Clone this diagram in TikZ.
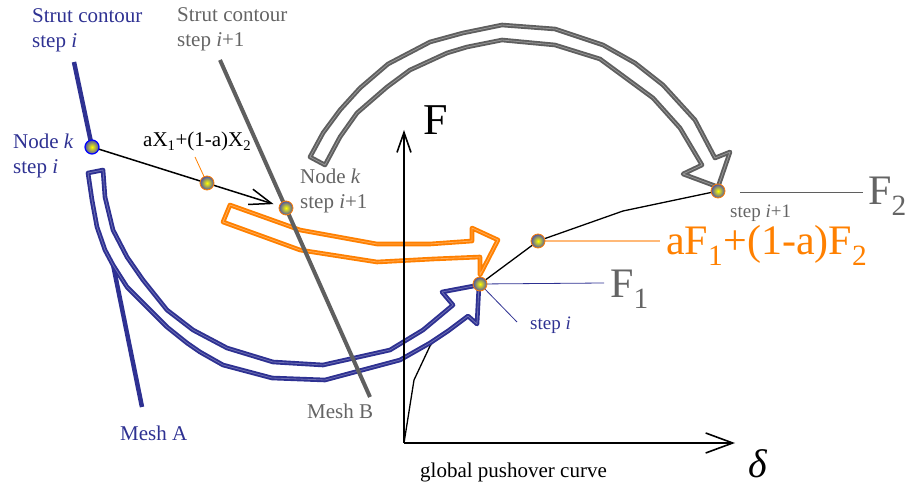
\documentclass[tikz,border=0pt]{standalone}
\usepackage{fontspec}
\setmainfont{Liberation Serif}
\usetikzlibrary{arrows.meta}
\definecolor{navy}{RGB}{46,49,146}
\definecolor{dgray}{RGB}{95,95,95}
\definecolor{tgray}{RGB}{100,100,100}
\definecolor{orng}{RGB}{255,128,0}
\definecolor{lorng}{RGB}{255,185,120}
\definecolor{ballout}{RGB}{75,80,165}
\begin{document}
\begin{tikzpicture}[x=1pt,y=-1pt,
  lab/.style={inner sep=0pt, anchor=base west, font=\fontsize{21}{25}\selectfont, align=left},
  big/.style={inner sep=0pt, anchor=base west, font=\fontsize{42}{48}\selectfont},
  small/.style={inner sep=0pt, anchor=base west, font=\fontsize{19}{22}\selectfont},
  ball/.style={circle, minimum size=14pt, inner sep=0pt, shade, inner color=yellow, outer color=ballout, draw=orng, line width=0.8pt},
  blockarrow/.style={line width=1.9pt, double distance=0.8pt, line join=round},
  strut/.style={line width=4pt},
  axis/.style={line width=1.6pt},
  leader/.style={line width=0.8pt}]
\useasboundingbox (0,0) rectangle (911,486);
% coordinates
\coordinate (K1) at (92,147);
\coordinate (XM) at (207,183);
\coordinate (K2) at (286,208);
\coordinate (P1) at (480,284);
\coordinate (PM) at (538,241);
\coordinate (P2) at (718,191);
\coordinate (O) at (404,443);
\coordinate (Ytip) at (404,130);
\coordinate (Xtip) at (735,443);
\coordinate (c1) at (414,380);
\coordinate (c2) at (430,346);
\coordinate (c3) at (623,211);
\coordinate (SAtop) at (74,62);
\coordinate (SAbot) at (142,407);
\coordinate (SAmid) at (105,225);
\coordinate (SBtop) at (220,60);
\coordinate (SBbot) at (370,397);
\coordinate (F1end) at (604,283);
\coordinate (F2start) at (740,192);
\coordinate (F2end) at (863,192);
\coordinate (FMend) at (660,241);
\coordinate (XMend) at (195,157);
\coordinate (SIend) at (517,322);
% strut contour step i / mesh A
\draw[strut, navy, line width=4.5pt] (SAtop) -- (K1);
\draw[strut, navy, line width=4.5pt] (SAmid) -- (SAbot);
% pushover curve (lower part)
\draw[line width=1.3pt] (O) -- (c1) -- (c2) -- (P1);
% blue arrow
\filldraw[blockarrow, fill=white, draw=navy, double=navy!70!white]
 (88,173) -- (103,170) -- (105,197) -- (113,230) -- (127,257) -- (143,280) -- (167,310) -- (193,330) -- (227,348) -- (273,362) -- (323,365) -- (390,350) -- (423,330) -- (453,305) -- (442,292) -- (479,285) -- (477,324) -- (468,316) -- (448,331) -- (430,343) -- (400,360) -- (325,380) -- (272,378) -- (223,365) -- (200,352) -- (187,343) -- (167,327) -- (147,307) -- (127,287) -- (113,265) -- (105,250) -- (97,227) -- (92,200) -- cycle;
% orange arrow
\draw[blockarrow, draw=orng, double=orng!65!white]
 (230,205) -- (300,230) -- (377,244) -- (430,244) -- (472,241) -- (472,228) -- (498,240) -- (480,275) -- (480,257) -- (433,259) -- (377,262) -- (300,250) -- (223,222) -- cycle;
% gray arrow
\filldraw[blockarrow, fill=white, draw=dgray, double=dgray!65!white]
 (310,157) -- (323,133) -- (340,110) -- (360,88) -- (388,64) -- (430,42) -- (463,33) -- (502,25) -- (555,29) -- (603,45) -- (635,63) -- (663,85) -- (695,120) -- (715,158) -- (730,152) -- (718,187) -- (683,174) -- (702,165) -- (680,128) -- (653,98) -- (600,59) -- (555,45) -- (502,40) -- (467,47) -- (447,53) -- (410,70) -- (387,87) -- (357,113) -- (340,137) -- (325,165) -- cycle;
% strut contour step i+1 / mesh B
\draw[strut, dgray] (SBtop) -- (SBbot);
% axes
\draw[axis, -{Straight Barb[length=20pt,width=14pt]}] (O) -- (Ytip);
\draw[axis, -{Straight Barb[length=27pt,width=20pt]}] (O) -- (Xtip);
% pushover curve upper part
\draw[line width=1.3pt] (P1) -- (PM) -- (c3) -- (P2);
% node displacement arrow
\draw[line width=1.5pt, shorten >=13pt, -{Straight Barb[length=22pt,width=16pt]}] (K1) -- (K2);
% leaders
\draw[leader, orng] (XMend) -- (XM);
\draw[leader, navy] (P1) -- (F1end);
\draw[leader, navy] (P1) -- (SIend);
\draw[line width=1.5pt, lorng] (PM) -- (FMend);
\draw[leader, dgray] (F2start) -- (F2end);
% balls
\node[ball, draw=blue, line width=1.2pt] (nk1) at (K1) {};
\node[ball] (nxm) at (XM) {};
\node[ball] (nk2) at (K2) {};
\node[ball] (nf1) at (P1) {};
\node[ball] (nfm) at (PM) {};
\node[ball] (nf2) at (P2) {};
% labels (multi-line nodes: base = last line)
\node[lab, text=navy] (sc1) at (32,48) {Strut contour\\step \textit{i}};
\node[lab, text=tgray] (sc2) at (177,47) {Strut contour\\step \textit{i}+1};
\node[lab, text=navy] (nk1lab) at (13,174) {Node \textit{k}\\step \textit{i}};
\node[lab] (xlab) at (143,147) {aX\textsubscript{1}+(1-a)X\textsubscript{2}};
\node[lab, text=tgray] (nk2lab) at (300,209) {Node \textit{k}\\step \textit{i}+1};
\node[lab, text=tgray] (meshB) at (307,418) {Mesh B};
\node[lab, text=navy] (meshA) at (120,440) {Mesh A};
\node[lab] (gpc) at (420,477) {global pushover curve};
\node[big, font=\fontsize{44}{48}\selectfont] (Flab) at (423,135) {F};
\node[big, font=\fontsize{40}{44}\selectfont] (dlab) at (748,477) {\textit{δ}};
\node[big, text=tgray] (F1lab) at (610,298) {F\textsubscript{1}};
\node[big, text=tgray] (F2lab) at (868,205) {F\textsubscript{2}};
\node[big, text=orng, font=\fontsize{42}{46}\selectfont] (FMlab) at (666,255) {aF\textsubscript{1}+(1-a)F\textsubscript{2}};
\node[small, text=tgray] (si1lab) at (730,218) {step \textit{i}+1};
\node[small, text=navy] (silab) at (530,330) {step \textit{i}};
\end{tikzpicture}
\end{document}
